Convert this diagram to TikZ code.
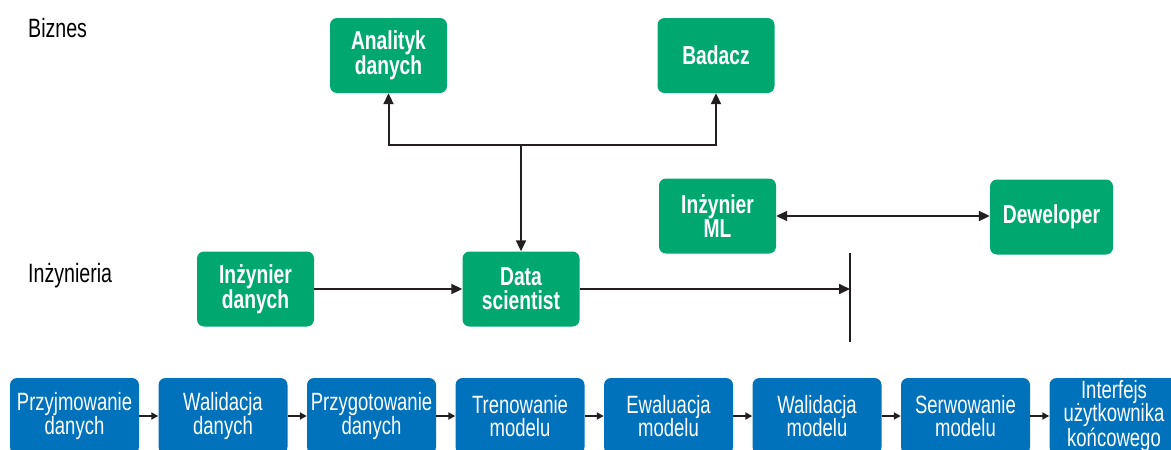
\documentclass[tikz,border=0pt]{standalone}
\usepackage{fontspec}
\setmainfont{Liberation Sans}[FakeStretch=0.74]
\usetikzlibrary{arrows.meta}

\definecolor{rolegreen}{RGB}{0,168,112}
\definecolor{stageblue}{RGB}{0,114,188}
\definecolor{linegray}{RGB}{35,31,32}

\tikzset{
  role/.style={rectangle, rounded corners=7pt, fill=rolegreen, text=white,
    minimum width=117pt, minimum height=75pt, inner sep=0pt, align=center,
    font=\fontsize{26}{24}\selectfont\bfseries},
  stage/.style={rectangle, rounded corners=7pt, fill=stageblue, text=white,
    minimum width=129pt, minimum height=76pt, inner sep=0pt, align=center,
    font=\fontsize{25}{23.5}\selectfont},
  link/.style={draw=linegray, line width=2pt, -{Triangle[length=11pt,width=10pt]}},
  hop/.style={draw=linegray, line width=2pt, -{Triangle[length=7pt,width=7pt]}},
  level/.style={anchor=west, inner sep=0pt, font=\fontsize{26.5}{28}\selectfont}
}

\begin{document}
\begin{tikzpicture}[x=1pt, y=-1pt]
    \clip (0,0) rectangle (1171,450);

    % Levels
    \node [level] (biz) at (28,28) {Biznes};
    \node [level] (inz) at (28,276) {Inżynieria};

    % Roles
    \node [role] (analityk) at (388.5,55.5) {Analityk\\danych};
    \node [role] (badacz)   at (716,55.5)   {Badacz};
    \node [role] (iml)      at (717.5,216)  {Inżynier\\ML};
    \node [role, minimum width=123pt] (dev) at (1051.5,217) {Deweloper};
    \node [role] (idan)     at (255.5,289)  {Inżynier\\danych};
    \node [role] (ds)       at (521,289)    {Data\\scientist};

    % Connectors
    \coordinate (split) at (521,145);
    \coordinate (bartop) at (850,253);
    \coordinate (barbot) at (850,342);
    \draw [link] (split) -| (analityk.south);
    \draw [link] (split) -| (badacz.south);
    \draw [link] (split) -- (ds.north);
    \draw [link] (idan) -- (ds);
    \draw [link] (ds.east) -- (ds.east -| bartop);
    \draw [draw=linegray, line width=2pt] (bartop) -- (barbot);
    \draw [link, {Triangle[length=11pt,width=10pt]}-{Triangle[length=11pt,width=10pt]}]
        (iml.east) -- (iml.east -| dev.west);

    % Pipeline stages
    \foreach \txt [count=\i] in {{Przyjmowanie\\danych}, {Walidacja\\danych},
        {Przygotowanie\\danych}, {Trenowanie\\modelu}, {Ewaluacja\\modelu},
        {Walidacja\\modelu}, {Serwowanie\\modelu}, {Interfejs\\użytkownika\\końcowego}}
        \node [stage] (s\i) at ({74.5+148.5*(\i-1)},416) {\txt};
    \foreach \i [count=\j from 2] in {1,...,7}
        \draw [hop] (s\i) -- (s\j);
\end{tikzpicture}
\end{document}
